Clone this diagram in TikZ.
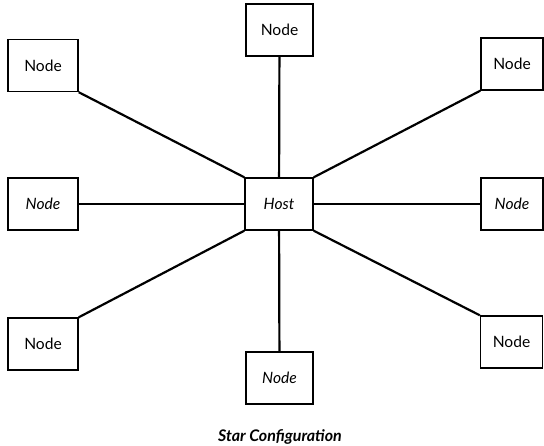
\documentclass[tikz,border=0pt]{standalone}
\usepackage{fontspec}
\setmainfont{Lato}
\usetikzlibrary{positioning}
\tikzset{
  unit/.style={draw=black, line width=0.7pt, fill=white, inner sep=0pt,
              minimum height=26pt, font=\fontsize{7.8}{9}\selectfont},
  link/.style={draw=black, line width=1.1pt},
  caption/.style={font=\fontsize{8}{9}\selectfont\bfseries\itshape},
}
\begin{document}
\begin{tikzpicture}[x=0.5pt,y=-0.5pt]
        \useasboundingbox (0,0) rectangle (544,445);
        % outer nodes: name/x/y/width/shape of text
        \foreach \n/\x/\y/\w/\f in {nTL/43/65.5/35/upshape,nTop/279.5/30/33.5/upshape,
                                    nTR/512/64/31/upshape,nLeft/43/204/35/itshape,
                                    nRight/512/204/31/itshape,nBL/43/344/35/upshape,
                                    nBot/279.5/378/33.5/itshape,nBR/511.5/342/31/upshape}{
          \node[unit,minimum width=\w pt,font=\fontsize{7.8}{9}\selectfont\csname\f\endcsname] (\n) at (\x,\y){Node};
        }
        \node[unit,minimum width=34pt,font=\fontsize{7.8}{9}\selectfont\itshape] (host) at (279,204){Host};
        % spokes
        \draw[link] (nTop) -- (host);
        \draw[link] (nBot) -- (host);
        \draw[link] (nLeft) -- (host);
        \draw[link] (nRight) -- (host);
        \draw[link] (nTL.south east) -- (host.north west);
        \draw[link] (nTR.south west) -- (host.north east);
        \draw[link] (nBL.north east) -- (host.south west);
        \draw[link] (nBR.north west) -- (host.south east);
        \node[caption] (title) at (280,437){Star Configuration};
      \end{tikzpicture}
\end{document}
